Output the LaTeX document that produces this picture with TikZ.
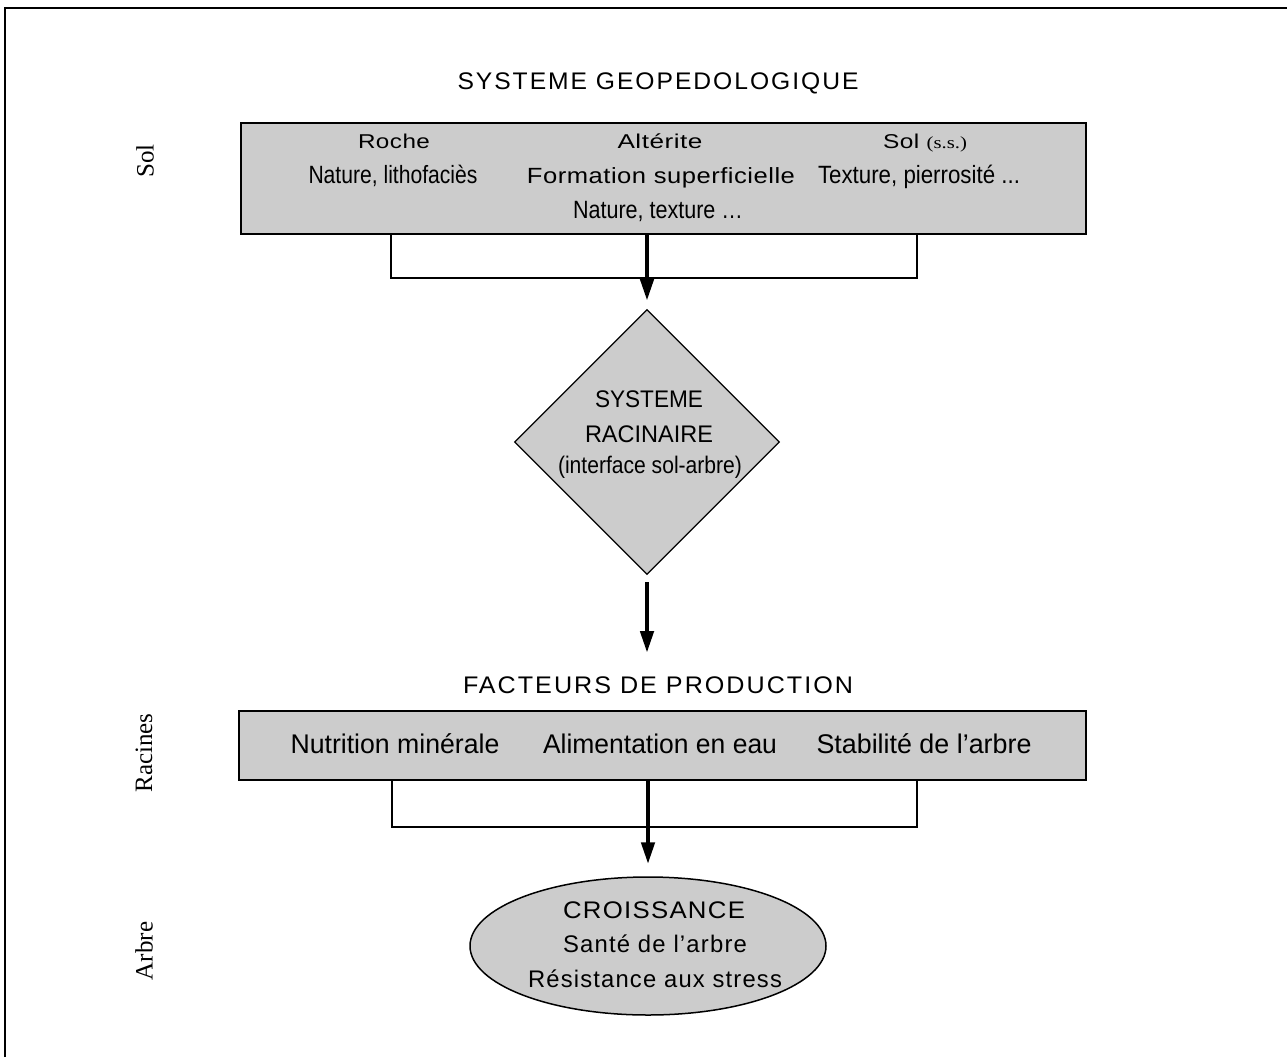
\documentclass[tikz,border=0pt]{standalone}
\usepackage{fontspec}
\usepackage{graphicx}
\setmainfont{Liberation Sans}
\newfontfamily\spacedfont[LetterSpace=2]{Liberation Sans}
\newfontfamily\trackfont[LetterSpace=8]{Liberation Sans}
\newfontfamily\midfont[LetterSpace=5]{Liberation Sans}
\newfontfamily\seriffont{Liberation Serif}
\usetikzlibrary{shapes.geometric,arrows.meta}
\newcommand{\fw}[3]{\resizebox{#1pt}{\height}{\fontsize{#2}{#2}\selectfont #3}}
\definecolor{boxgray}{RGB}{204,204,204}
\tikzset{
  txt/.style={inner sep=0pt, anchor=base},
  side/.style={inner sep=0pt, rotate=90, font=\seriffont\fontsize{25}{25}\selectfont},
  graybox/.style={draw, line width=1.5pt, fill=boxgray, inner sep=0pt, anchor=north west},
  bracket/.style={line width=1.5pt},
  bigarrow/.style={line width=4.5pt, -{Triangle[width=13pt,length=22pt]}},
}
\begin{document}
\begin{tikzpicture}[x=1pt,y=-1pt]
\useasboundingbox (0,0) rectangle (1287,1057);
\fill[white] (0,0) rectangle (1287,1057);
% frame (only top and left edges visible)
\draw[line width=2pt] (5,1057) -- (5,8) -- (1287,8);

% side labels
\node[side] (lsol) at (145,161) {Sol};
\node[side] (lrac) at (144,753) {Racines};
\node[side] (larb) at (144,951) {Arbre};

% title
\node[txt] (title) at (658,89) {\fw{401}{24}{\trackfont SYSTEME GEOPEDOLOGIQUE}};

% top box
\node[graybox, minimum width=845pt, minimum height=111pt] (topbox) at (240,122) {};
\node[txt] (roche) at (394,148) {\fw{72}{20}{\spacedfont Roche}};
\node[txt] (alter) at (660,148) {\fw{85}{20}{\spacedfont Altérite}};
\node[txt] (solss) at (925,148) {\fw{84}{20}{\spacedfont Sol \seriffont\fontsize{17}{17}\selectfont (s.s.)}};
\node[txt] (natl) at (393,183) {\fw{169}{25}{Nature, lithofaciès}};
\node[txt] (form) at (661,183) {\fw{268}{22}{\spacedfont Formation superficielle}};
\node[txt] (textp) at (919,183) {\fw{202}{25}{Texture, pierrosité ...}};
\node[txt] (natt) at (658,218) {\fw{170}{25}{Nature, texture …}};

% top bracket
\coordinate (b1l) at (391,278);
\coordinate (b1r) at (917,278);
\draw[bracket] (topbox.south -| b1l) -- (b1l) -- (b1r) -- (topbox.south -| b1r);

% diamond
\node[draw, line width=1.2pt, fill=boxgray, diamond, aspect=1, minimum width=265pt, minimum height=265pt, inner sep=0pt] (dia) at (647,442) {};
\node[txt] (d1) at (649,407) {\fw{108}{24}{SYSTEME}};
\node[txt] (d2) at (649,442) {\fw{128}{24}{RACINAIRE}};
\node[txt] (d3) at (650,473) {\fw{184}{24}{(interface sol-arbre)}};

\draw[bigarrow] (topbox.south -| dia.north) -- ([yshift=8pt]dia.north);
\coordinate (a2t) at (647,653);
\draw[bigarrow] ([yshift=-7pt]dia.south) -- (a2t);

% facteurs
\node[txt] (fact) at (658,693) {\fw{390}{24}{\trackfont FACTEURS DE PRODUCTION}};
\node[graybox, minimum width=847pt, minimum height=69pt] (box2) at (238,710) {};
\node[txt] (nut) at (395,753) {\fw{209}{27}{Nutrition minérale}};
\node[txt] (ali) at (660,753) {\fw{234}{27}{Alimentation en eau}};
\node[txt] (sta) at (924,753) {\fw{215}{27}{Stabilité de l’arbre}};

\coordinate (b2l) at (392,827);
\coordinate (b2r) at (917,827);
\draw[bracket] (box2.south -| b2l) -- (b2l) -- (b2r) -- (box2.south -| b2r);

% ellipse
\node[draw, line width=1.5pt, fill=boxgray, ellipse, minimum width=356pt, minimum height=138pt, inner sep=0pt] (ell) at (648,946) {};
\node[txt] (e1) at (654,918) {\fw{182}{24}{\midfont CROISSANCE}};
\node[txt] (e2) at (655,952) {\fw{184}{24}{\midfont Santé de l’arbre}};
\node[txt] (e3) at (655,987) {\fw{254}{24}{\midfont Résistance aux stress}};

\draw[bigarrow] (box2.south -| ell.north) -- ([yshift=12pt]ell.north);
\end{tikzpicture}
\end{document}
